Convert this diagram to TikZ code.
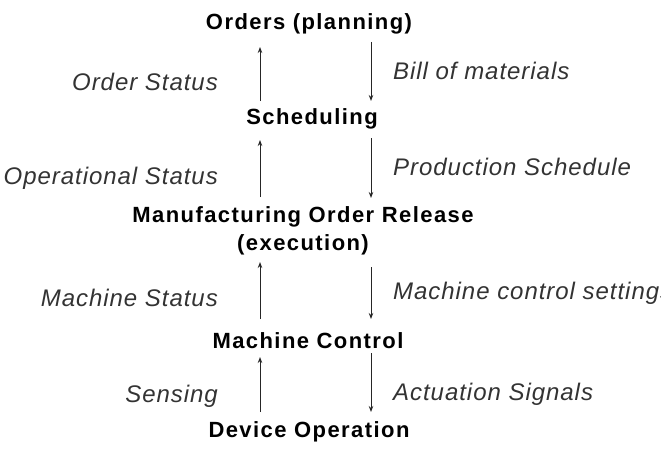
\documentclass[tikz,border=0pt]{standalone}
\usepackage{fontspec}
\setmainfont{Liberation Sans}
\usetikzlibrary{arrows.meta}
\begin{document}
\begin{tikzpicture}[x=1pt,y=-1pt,
  level/.style={font=\fontsize{22}{28}\selectfont\bfseries\addfontfeatures{LetterSpace=6.5}, text=black, inner sep=0pt, align=center, anchor=base},
  flow/.style={font=\fontsize{24}{28}\selectfont\itshape\addfontfeatures{LetterSpace=4}, text=black!80, inner sep=0pt},
  link/.style={line width=1pt, draw=black!85, -{Stealth[length=6pt,width=4.5pt]}}]
\useasboundingbox (0,0) rectangle (661,452);
\node[level] (orders) at (309,30) {Orders (planning)};
\node[level] (sched) at (312,124) {Scheduling};
\node[level] (mor) at (303,250) {Manufacturing Order Release\\(execution)};
\node[level] (mc) at (308,348) {Machine Control};
\node[level] (dev) at (309,437) {Device Operation};
% arrows
\coordinate (u1s) at (260,101); \coordinate (u1e) at (260,47);
\coordinate (d1s) at (371,42); \coordinate (d1e) at (371,101);
\coordinate (u2s) at (260,197); \coordinate (u2e) at (260,140);
\coordinate (d2s) at (371,138); \coordinate (d2e) at (371,198);
\coordinate (u3s) at (260,319); \coordinate (u3e) at (260,262);
\coordinate (d3s) at (371,267); \coordinate (d3e) at (371,319);
\coordinate (u4s) at (260,412); \coordinate (u4e) at (260,357);
\coordinate (d4s) at (371,353); \coordinate (d4e) at (371,412);
\draw[link] (u1s) -- (u1e);
\draw[link] (d1s) -- (d1e);
\draw[link] (u2s) -- (u2e);
\draw[link] (d2s) -- (d2e);
\draw[link] (u3s) -- (u3e);
\draw[link] (d3s) -- (d3e);
\draw[link] (u4s) -- (u4e);
\draw[link] (d4s) -- (d4e);
% labels
\node[flow, anchor=base east] (l1) at (218,90) {Order Status};
\node[flow, anchor=base west] (r1) at (393,80) {Bill of materials};
\node[flow, anchor=base east] (l2) at (218,184) {Operational Status};
\node[flow, anchor=base west] (r2) at (393,175) {Production Schedule};
\node[flow, anchor=base east] (l3) at (218,306) {Machine Status};
\node[flow, anchor=base west] (r3) at (393,299) {Machine control settings};
\node[flow, anchor=base east] (l4) at (218,402) {Sensing};
\node[flow, anchor=base west] (r4) at (393,400) {Actuation Signals};
\end{tikzpicture}
\end{document}
